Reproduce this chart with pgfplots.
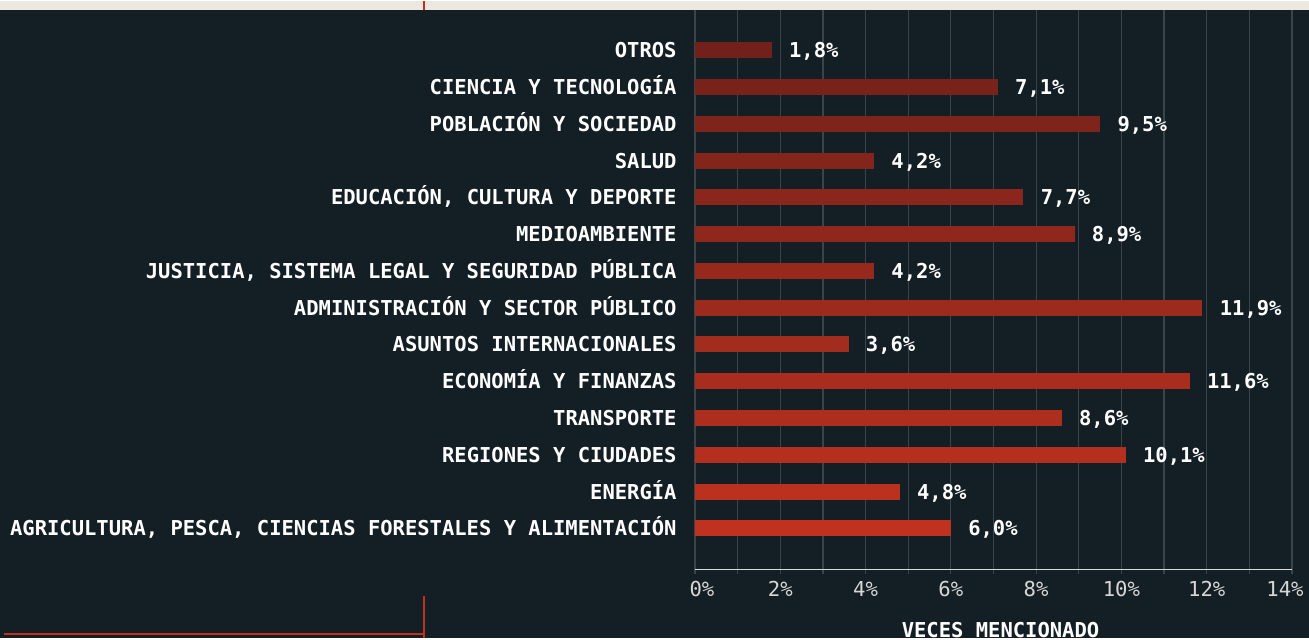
\documentclass[border=0pt]{standalone}
\usepackage{fontspec}
\usepackage{pgfplots}
\pgfplotsset{compat=1.18}
\newfontfamily\mono{DejaVu Sans Mono}
\newcommand\lf{\mono\fontsize{10.3}{12}\selectfont}
\newcommand\lfb{\mono\bfseries\fontsize{10.25}{12}\selectfont}
\definecolor{bgc}{HTML}{141F25}
\definecolor{beige}{HTML}{ECE7E0}
\definecolor{redl}{HTML}{C0321F}
\definecolor{gridc}{HTML}{3A454A}
\definecolor{axisc}{HTML}{D9D9D9}
\definecolor{tickc}{HTML}{D6D6D6}
\definecolor{barT}{HTML}{72211A}
\definecolor{barB}{HTML}{C0321F}

\pgfplotsset{
  mybar/.style={xbar, bar width=8pt, bar shift=0pt, draw=none, fill=#1,
    point meta=x,
    nodes near coords={\pgfmathprintnumber[fixed,fixed zerofill,precision=1,use comma]{\pgfplotspointmeta}\%},
    nodes near coords style={font=\lfb, text=white, anchor=base west,
      inner sep=0pt, xshift=8.5pt, yshift=-3.75pt}},
}

\begin{document}
\begin{tikzpicture}
\fill[bgc] (-347.5pt,-34pt) rectangle (307pt,284.5pt);
\fill[beige] (-347.5pt,280pt) rectangle (307pt,284.5pt);
\draw[redl, line width=1.3pt] (-135.5pt,280pt) -- (-135.5pt,284.5pt);
\draw[redl, line width=1pt] (-345.5pt,-32pt) -- (-135.5pt,-32pt);
\draw[redl, line width=1.2pt] (-135.5pt,-13pt) -- (-135.5pt,-34pt);
\useasboundingbox (-347.5pt,-34pt) rectangle (307pt,284.5pt);
\begin{axis}[
  at={(0pt,0.5pt)}, anchor=south west,
  scale only axis, width=298.5pt, height=279.5pt,
  xmin=0, xmax=14, ymin=-1.115, ymax=14.088,
  clip=false,
  axis line style={draw=none},
  xtick={0,2,...,14}, minor xtick={1,3,...,13},
  xmajorgrids, xminorgrids,
  major grid style={draw=gridc, line width=0.6pt},
  minor grid style={draw=gridc, line width=0.6pt},
  tick align=outside, xtick pos=left,
  major tick length=2.5pt, minor tick length=2.5pt,
  xtick style={draw=gridc, line width=0.6pt},
  ytick={0,...,13}, ytick style={draw=none},
  yticklabels={{AGRICULTURA, PESCA, CIENCIAS FORESTALES Y ALIMENTACIÓN},
    {ENERGÍA}, {REGIONES Y CIUDADES}, {TRANSPORTE}, {ECONOMÍA Y FINANZAS},
    {ASUNTOS INTERNACIONALES}, {ADMINISTRACIÓN Y SECTOR PÚBLICO},
    {JUSTICIA, SISTEMA LEGAL Y SEGURIDAD PÚBLICA}, {MEDIOAMBIENTE},
    {EDUCACIÓN, CULTURA Y DEPORTE}, {SALUD}, {POBLACIÓN Y SOCIEDAD},
    {CIENCIA Y TECNOLOGÍA}, {OTROS}},
  yticklabel style={font=\lfb, text=white, anchor=base east, inner sep=0pt,
    xshift=-6.5pt, yshift=-3.75pt},
  /pgf/number format/assume math mode=true,
  xticklabels={{\hspace{7pt}0\%}, 2\%, 4\%, 6\%, 8\%, 10\%, 12\%, {14\%\hspace*{7pt}}},
  xticklabel style={font=\lf, text=tickc, anchor=base, inner sep=0pt, yshift=-11pt},
]
\addplot[mybar=barB!100!barT] coordinates {(6.0,0)};
\addplot[mybar=barB!92!barT] coordinates {(4.8,1)};
\addplot[mybar=barB!85!barT] coordinates {(10.1,2)};
\addplot[mybar=barB!77!barT] coordinates {(8.6,3)};
\addplot[mybar=barB!69!barT] coordinates {(11.6,4)};
\addplot[mybar=barB!62!barT] coordinates {(3.6,5)};
\addplot[mybar=barB!54!barT] coordinates {(11.9,6)};
\addplot[mybar=barB!46!barT] coordinates {(4.2,7)};
\addplot[mybar=barB!38!barT] coordinates {(8.9,8)};
\addplot[mybar=barB!31!barT] coordinates {(7.7,9)};
\addplot[mybar=barB!23!barT] coordinates {(4.2,10)};
\addplot[mybar=barB!15!barT] coordinates {(9.5,11)};
\addplot[mybar=barB!8!barT] coordinates {(7.1,12)};
\addplot[mybar=barB!0!barT] coordinates {(1.8,13)};
\draw[axisc, line width=0.8pt] (rel axis cs:0,0) -- (rel axis cs:1,0);
\end{axis}
\node[font=\lfb, text=white, anchor=base, inner sep=0pt] at (152.75pt,-33.4pt) {VECES MENCIONADO};
\end{tikzpicture}
\end{document}
